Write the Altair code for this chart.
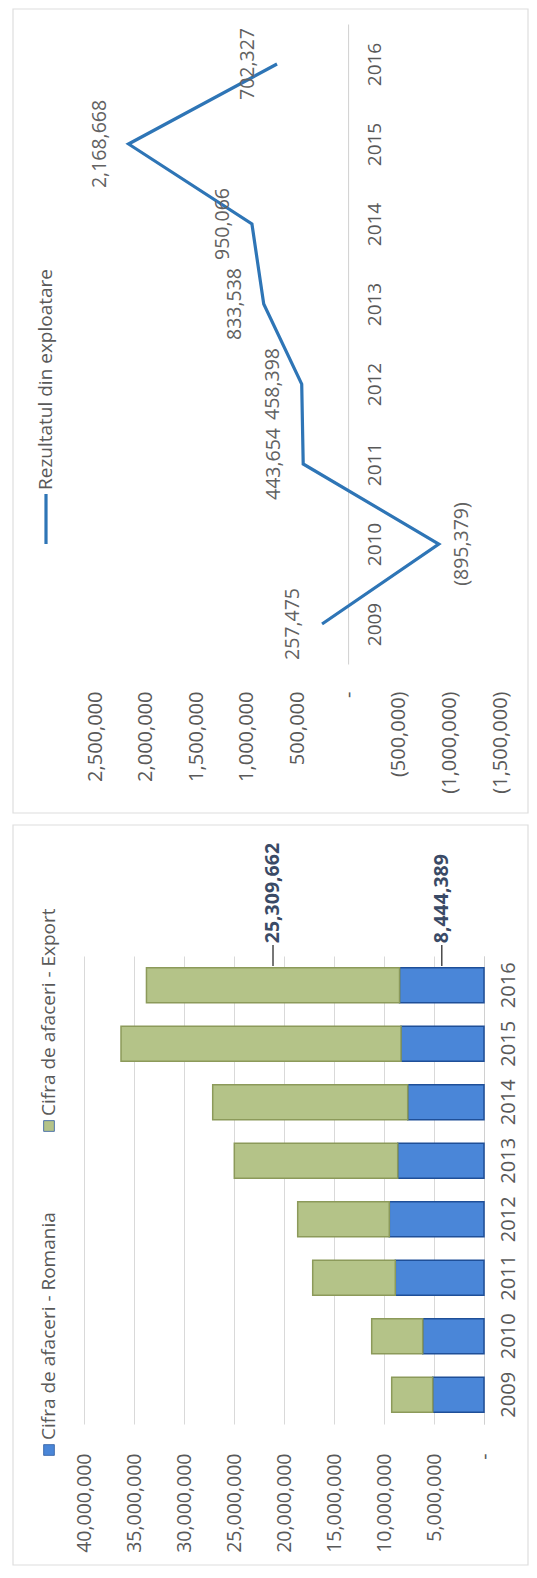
import altair as alt
import pandas as pd

# ---------------- data ----------------
years = ["2009", "2010", "2011", "2012", "2013", "2014", "2015", "2016"]

# line chart: Rezultatul din exploatare
line_series = ["Rezultatul din exploatare"]
rezultat = [257475, -895379, 443654, 458398, 833538, 950066, 2168668, 702327]
line_ticks = [-1500000, -1000000, -500000, 0, 500000, 1000000, 1500000, 2000000, 2500000]

# stacked bars: Cifra de afaceri
bar_series = ["Cifra de afaceri - Romania", "Cifra de afaceri - Export"]
cifra_romania = [5130000, 6130000, 8870000, 9470000, 8630000, 7630000, 8300000, 8444389]
cifra_export = [4100000, 5100000, 8260000, 9160000, 16340000, 19500000, 28000000, 25309662]
bar_ticks = [0, 5000000, 10000000, 15000000, 20000000, 25000000, 30000000, 35000000, 40000000]
labelled_year = "2016"

# ---------------- styles ----------------
FONT = "Open Sans"
GREY = "#595959"
FRAME = "#dedede"
LINE_BLUE = "#2e75b6"
BAR_COLORS = ["#4a86d8", "#b4c388"]
BAR_STROKES = ["#1f4f98", "#8c9a5a"]
NB = "\u00a0"

one = pd.DataFrame({"k": [0]})

# ================= top chart (line) =================
line_df = pd.DataFrame({"year": years, "v": rezultat})
line_df["label"] = [
    ("(" + format(-v, ",") + ")") if v < 0 else format(v, ",") for v in rezultat
]

x_line = alt.X(
    "v:Q",
    scale=alt.Scale(domain=[-1500000, 2500000], range=[416, 11], nice=False, zero=False),
    axis=alt.Axis(
        values=line_ticks, orient="bottom", title=None, grid=False, domain=False,
        ticks=False, labelAngle=270, labelAlign="right", labelBaseline="middle",
        labelPadding=27, labelFlush=False, labelOverlap=False, labelFontSize=20,
        labelExpr=("datum.value == 0 ? '-" + NB * 5 + "' : (datum.value < 0 ? '(' + "
                   "format(-datum.value, ',') + ')' : format(datum.value, ','))"),
    ),
)
y_line = alt.Y(
    "year:O", sort="descending", scale=alt.Scale(padding=0.5),
    axis=alt.Axis(
        orient="right", offset=-151.9, title=None, grid=False, ticks=False, tickSize=0,
        domainColor="#d0d0d0", labelAngle=270, labelAlign="center",
        labelBaseline="middle", labelPadding=26, labelOverlap=False, labelFontSize=19,
    ),
)

base_line = alt.Chart(line_df)
frame_top = alt.Chart(one).mark_rect(fillOpacity=0, stroke=FRAME, strokeWidth=1.2).encode(
    x=alt.value(-71), x2=alt.value(444), y=alt.value(-15), y2=alt.value(789)
)
line = base_line.mark_line(color=LINE_BLUE, strokeWidth=3.2).encode(
    x=x_line, y=y_line, order=alt.Order("year:O")
)
pos_labels = base_line.transform_filter("datum.v >= 0").mark_text(
    angle=270, align="center", baseline="middle", dy=-29, fontSize=19.5, color="#626262"
).encode(x=x_line, y=y_line, text="label:N")
neg_labels = base_line.transform_filter("datum.v < 0").mark_text(
    angle=270, align="center", baseline="middle", dy=23, fontSize=19.5, color="#626262"
).encode(x=x_line, y=y_line, text="label:N")

line_leg_df = pd.DataFrame({"name": line_series})
line_leg_sym = alt.Chart(line_leg_df).mark_rule(color=LINE_BLUE, strokeWidth=3.2).encode(
    x=alt.value(-38), y=alt.value(470), y2=alt.value(520)
)
line_leg_txt = alt.Chart(line_leg_df).mark_text(
    angle=270, align="left", baseline="middle", fontSize=19, color=GREY
).encode(x=alt.value(-38), y=alt.value(466), text="name:N")

top = alt.layer(
    frame_top, line, pos_labels, neg_labels, line_leg_sym, line_leg_txt
).properties(width=416, height=640)

# ================= bottom chart (stacked bars) =================
rows = []
for i, y in enumerate(years):
    rows.append({"year": y, "series": bar_series[0], "value": cifra_romania[i], "ord": 0})
    rows.append({"year": y, "series": bar_series[1], "value": cifra_export[i], "ord": 1})
bar_df = pd.DataFrame(rows)

x_bar = alt.X(
    "value:Q", stack="zero",
    scale=alt.Scale(domain=[0, 40000000], reverse=True, nice=False),
    axis=alt.Axis(
        values=bar_ticks, title=None, grid=True, gridColor="#d9d9d9", domain=False,
        ticks=False, labelAngle=270, labelAlign="right", labelBaseline="middle",
        labelPadding=29, labelFlush=False, labelOverlap=False, labelFontSize=19.5,
        labelExpr="datum.value == 0 ? '-" + NB * 5 + "' : format(datum.value, ',')",
    ),
)
y_bar = alt.Y(
    "year:O", sort="descending",
    scale=alt.Scale(paddingInner=0.4, paddingOuter=0.2),
    axis=alt.Axis(
        orient="right", title=None, grid=False, ticks=False, tickSize=0,
        domainColor="#d0d0d0", labelAngle=270, labelAlign="center",
        labelBaseline="middle", labelPadding=24, labelOverlap=False, labelFontSize=20,
    ),
)

frame_bot = alt.Chart(one).mark_rect(fillOpacity=0, stroke=FRAME, strokeWidth=1.2).encode(
    x=alt.value(-71), x2=alt.value(444), y=alt.value(-131), y2=alt.value(609)
)
bars = alt.Chart(bar_df).mark_bar(strokeWidth=1.5).encode(
    x=x_bar, y=y_bar,
    color=alt.Color("series:N", scale=alt.Scale(domain=bar_series, range=BAR_COLORS), legend=None),
    stroke=alt.Stroke("series:N", scale=alt.Scale(domain=bar_series, range=BAR_STROKES), legend=None),
    order=alt.Order("ord:Q"),
)

li = years.index(labelled_year)
ro, ex = cifra_romania[li], cifra_export[li]
lab_df = pd.DataFrame({
    "year": [labelled_year, labelled_year],
    "mid": [ro / 2, ro + ex / 2],
    "label": [format(ro, ","), format(ex, ",")],
})
x_mid = alt.X("mid:Q", scale=alt.Scale(domain=[0, 40000000], reverse=True, nice=False))
bar_labels = alt.Chart(lab_df).mark_text(
    angle=270, align="left", baseline="middle", dx=42, fontSize=19.5,
    fontWeight="bold", color="#3a4a66"
).encode(x=x_mid, y=y_bar, text="label:N")
leaders = alt.Chart(lab_df).mark_rule(color="#4a4a4a", strokeWidth=1.5).encode(
    x=x_mid, y=alt.value(-11), y2=alt.value(10)
)

bar_leg_df = pd.DataFrame({"name": bar_series, "col": BAR_COLORS, "pos": [494, 170]})
bar_leg_sym = alt.Chart(bar_leg_df).mark_square(size=115, opacity=1, stroke="#2d5aa0",
                                                strokeWidth=0.8).encode(
    x=alt.value(-35),
    y=alt.Y("pos:Q", scale=None),
    color=alt.Color("col:N", scale=None),
)
bar_leg_txt = alt.Chart(bar_leg_df).mark_text(
    angle=270, align="left", baseline="middle", fontSize=19, color=GREY, dx=10
).encode(x=alt.value(-35), y=alt.Y("pos:Q", scale=None), text="name:N")

bottom = alt.layer(
    frame_bot, bars, leaders, bar_labels, bar_leg_sym, bar_leg_txt
).properties(width=400, height=468)

chart = alt.vconcat(top, bottom, spacing=10).properties(
    padding={"left": 4, "top": 0, "right": 0, "bottom": 0}
).configure_view(strokeOpacity=0).configure_axis(
    labelFont=FONT, labelColor=GREY
).configure_text(font=FONT)

chart.save("out.html", embed_options={"renderer": "svg", "actions": False})
